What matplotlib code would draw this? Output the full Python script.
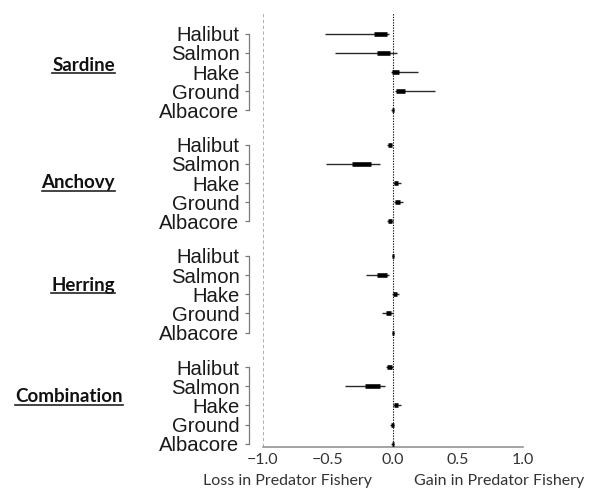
import matplotlib
matplotlib.use("Agg")
import matplotlib.pyplot as plt
from matplotlib.lines import Line2D
from matplotlib.transforms import IdentityTransform, blended_transform_factory
import numpy as np

# ---------------- data ----------------
groups = ["Sardine", "Anchovy", "Herring", "Combination"]
predators = ["Halibut", "Salmon", "Hake", "Ground", "Albacore"]

# outer (thin) interval and inner (thick) interval, per group, per predator
lo_outer = [
    [-0.523, -0.444, -0.018, 0.018, -0.012],
    [-0.049, -0.513, 0.000, 0.010, -0.046],
    [-0.008, -0.205, -0.005, -0.082, -0.008],
    [-0.051, -0.367, 0.000, -0.020, -0.012],
]
lo_inner = [
    [-0.144, -0.121, -0.005, 0.020, -0.010],
    [-0.042, -0.318, 0.005, 0.015, -0.040],
    [-0.006, -0.121, 0.000, -0.056, -0.006],
    [-0.045, -0.218, 0.004, -0.015, -0.010],
]
hi_inner = [
    [-0.049, -0.021, 0.046, 0.090, 0.008],
    [-0.010, -0.167, 0.036, 0.050, -0.008],
    [0.008, -0.044, 0.028, -0.013, 0.008],
    [-0.008, -0.103, 0.038, 0.006, 0.006],
]
hi_outer = [
    [-0.031, 0.031, 0.192, 0.323, 0.010],
    [-0.005, -0.100, 0.059, 0.077, -0.002],
    [0.010, -0.031, 0.044, 0.000, 0.010],
    [-0.002, -0.062, 0.062, 0.010, 0.008],
]
xtick_values = [-1.0, -0.5, 0.0, 0.5, 1.0]
xtick_labels = ["\u22121.0", "\u22120.5", "0.0", "0.5", "1.0"]
loss_label = "Loss in Predator Fishery"
gain_label = "Gain in Predator Fishery"

# ---------------- layout ----------------
W, H = 595, 490
fig = plt.figure(figsize=(W / 100, H / 100), dpi=100)
ax = fig.add_axes([263 / W, 43 / H, 260 / W, 434 / H])

group_step = 5.8
positions = []
for g in range(len(groups)):
    positions.append([-(g * group_step + i) for i in range(len(predators))])

ax.set_xlim(-1.0, 1.0)
ax.set_ylim(-(3 * group_step + 4) - 0.17, 1.08)

# reference lines
ax.axvline(-1.0, color="#9a9a9a", lw=1.1, ls=(0, (2.2, 1.6)), zorder=1)
ax.axvline(0.0, color="#111111", lw=0.8, ls=(0, (1.2, 1.2)), zorder=1)

# intervals
for g in range(len(groups)):
    ys = positions[g]
    ax.hlines(ys, lo_outer[g], hi_outer[g], color="#2a2a2a", lw=1.0, zorder=3)
    ax.hlines(ys, lo_inner[g], hi_inner[g], color="black", lw=3.3, zorder=4)

# spines
for s in ["top", "right"]:
    ax.spines[s].set_visible(False)
ax.spines["bottom"].set_color("#8a8a8a")
ax.spines["bottom"].set_linewidth(1.1)
ax.spines["bottom"].set_bounds(-1.0, 1.0)
ax.spines["left"].set_position(("outward", 14 * 0.72))
ax.spines["left"].set_visible(False)

# x ticks
ax.set_xticks(xtick_values)
ax.set_xticklabels(xtick_labels, family=["Lato", "DejaVu Sans"], fontsize=11.5, color="#333333")
ax.tick_params(axis="x", length=0, pad=4)

# y ticks (one bracket per group)
all_pos = [p for grp in positions for p in grp]
all_lab = [lab for _ in groups for lab in predators]
ax.set_yticks(all_pos)
ax.set_yticklabels(all_lab, family=["Liberation Sans", "DejaVu Sans"], fontsize=14.6, color="#1a1a1a")
ax.tick_params(axis="y", direction="out", length=2.6, width=0.9, color="#7a7a7a", pad=4.2)
ytr = ax.get_yaxis_transform(which="tick1")
for g in range(len(groups)):
    ax.plot([0, 0], [positions[g][0], positions[g][-1]], transform=ytr,
            color="#7a7a7a", lw=0.9, clip_on=False)

# axis side labels
ax.text(-0.815, 0, loss_label, transform=blended_transform_factory(ax.transData, fig.transFigure),
        ha="center", va="baseline", fontsize=11.5, family=["Lato", "DejaVu Sans"], color="#333333")
ax.text(0.815, 0, gain_label, transform=blended_transform_factory(ax.transData, fig.transFigure),
        ha="center", va="baseline", fontsize=11.5, family=["Lato", "DejaVu Sans"], color="#333333")
for t in ax.texts[-2:]:
    t.set_y(5 / H)

# group labels, bold + underlined
label_right = [115, 115, 115, 122.7]
label_dy = [0.07, -0.25, 0.19, 0.19]
fig.canvas.draw()
renderer = fig.canvas.get_renderer()
for g, name in enumerate(groups):
    tr = blended_transform_factory(fig.transFigure, ax.transData)
    ypos = positions[g][2] + label_dy[g]
    t = ax.text(label_right[g] / W, ypos, name, transform=tr, ha="right", va="baseline",
                fontsize=13.5, fontweight="bold", family=["Lato", "DejaVu Sans"], color="#111111")
    bb = t.get_window_extent(renderer)
    base_y = tr.transform((0, ypos))[1]
    fig.add_artist(Line2D([bb.x0, bb.x1], [base_y - 2.8, base_y - 2.8],
                          transform=IdentityTransform(), color="#222222", lw=1.2))

fig.savefig("out.png", dpi=100, facecolor="white")
